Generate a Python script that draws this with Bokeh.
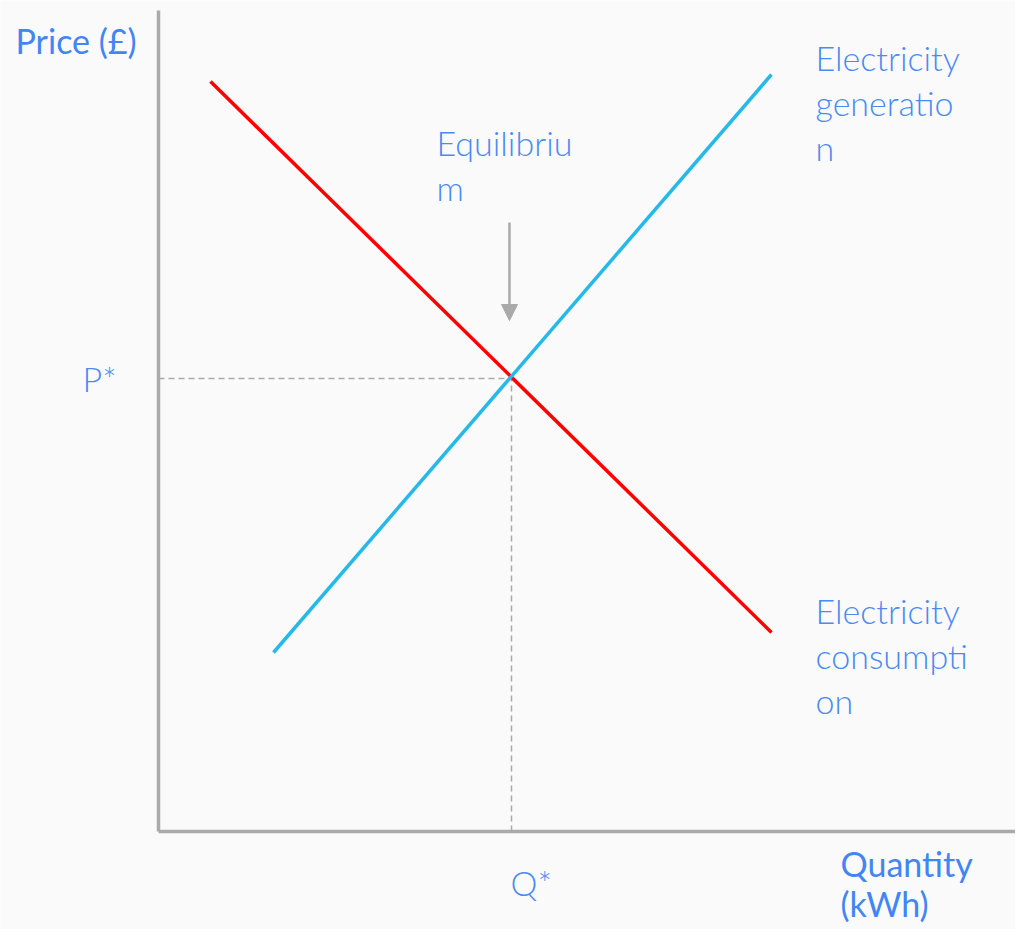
from bokeh.plotting import figure
from bokeh.models import Range1d, Arrow, NormalHead
from bokeh.core.properties import value
from bokeh.embed import file_html
from bokeh.resources import INLINE

# ---- data (abstract units: origin at axes corner) ----
supply_x = [11.5, 61.3]          # Electricity generation
supply_y = [17.9, 75.7]
demand_x = [5.2, 61.3]           # Electricity consumption
demand_y = [75.0, 19.9]
q_star = 35.3
p_star = 45.3
axis_x_end = 88.0
axis_y_end = 82.1
arrow_top = 60.9
arrow_bottom = 51.1

label_texts = ["Price (£)", "P*", "Q*", "Quantity\n(kWh)", "Equilibriu\nm",
               "Electricity\ngeneratio\nn", "Electricity\nconsumpti\non"]
label_x = [-14.3, -7.6, 35.2, 68.2, 27.8, 65.7, 65.7]
label_y = [77.6, 43.8, -6.6, -4.7, 67.4, 75.9, 20.6]
label_step = [4.5, 4.5, 4.5, 4.0, 4.5, 4.5, 4.5]
label_dark = [True, False, False, True, False, False, False]

BG = "#fafafa"
BASE_FIX = 1.55   # renderer baseline correction (data units)

p = figure(width=1015, height=929, output_backend="svg", toolbar_location=None,
           x_range=Range1d(-15.8, 85.7), y_range=Range1d(-9.8, 83.1),
           min_border=0, background_fill_color=BG, border_fill_color=BG,
           outline_line_color=None)
p.axis.visible = False
p.grid.visible = False

# axes
p.line([0, 0], [0, axis_y_end], line_color="#aaaaaa", line_width=3.5)
p.line([0, axis_x_end], [0, 0], line_color="#aaaaaa", line_width=3.5)

# guide lines
p.line([0, q_star], [p_star, p_star], line_color="#aaaaaa", line_width=1.5, line_dash="6 4")
p.line([q_star, q_star], [0, p_star], line_color="#aaaaaa", line_width=1.5, line_dash="6 4")

# curves
p.line(demand_x, demand_y, line_color="#ff0000", line_width=3.5)
p.line(supply_x, supply_y, line_color="#25b9e9", line_width=3.5)

# arrow
p.add_layout(Arrow(end=NormalHead(size=16, fill_color="#aaaaaa", line_color="#aaaaaa"),
                   x_start=q_star - 0.2, y_start=arrow_top,
                   x_end=q_star - 0.2, y_end=arrow_bottom,
                   line_color="#aaaaaa", line_width=2.5))

# labels
for t, x, y, step, dark in zip(label_texts, label_x, label_y, label_step, label_dark):
    lines = t.split("\n")
    xs = [x] * len(lines)
    ys = [y + BASE_FIX - i * step for i in range(len(lines))]
    p.text(xs, ys, text=lines,
           text_font=value("Lato" if dark else "Lato Light"),
           text_font_size="34px",
           text_color="#4285f4" if dark else "#4a8af2",
           text_baseline="alphabetic", text_align="left")

html = file_html(p, INLINE)
html = html.replace("<body>", '<body style="background:#fafafa">', 1)
open("out.html", "w").write(html)
